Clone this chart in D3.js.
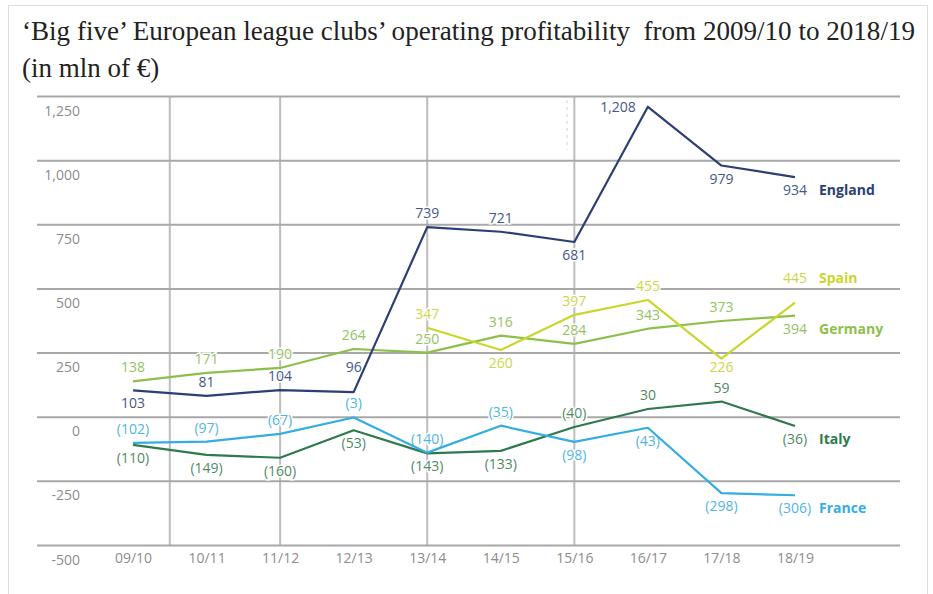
<!DOCTYPE html>
<html>
<head>
<meta charset="utf-8">
<script src="https://cdn.jsdelivr.net/npm/d3@7"></script>
<style>
  body { margin: 0; background: #fff; }
  svg { display: block; }
</style>
</head>
<body>
<svg id="chart"></svg>
<script>
const seasons = ['09/10', '10/11', '11/12', '12/13', '13/14', '14/15', '15/16', '16/17', '17/18', '18/19'];
const england = [103, 81, 104, 96, 739, 721, 681, 1208, 979, 934];
const spain = [null, null, null, null, 347, 260, 397, 455, 226, 445];
const germany = [138, 171, 190, 264, 250, 316, 284, 343, 373, 394];
const italy = [-110, -149, -160, -53, -143, -133, -40, 30, 59, -36];
const france = [-102, -97, -67, -3, -140, -35, -98, -43, -298, -306];
const yTicks = [-500, -250, 0, 250, 500, 750, 1000, 1250];

// where each value label sits: a = above, A = further above, b = below, c = just below, l = left
const englandPos = ['b', 'a', 'a', 'A', 'a', 'a', 'b', 'l', 'b', 'b'];
const spainPos = [null, null, null, null, 'a', 'b', 'a', 'a', 'c', 'A'];
const germanyPos = ['a', 'a', 'a', 'a', 'a', 'a', 'a', 'a', 'a', 'b'];
const italyPos = ['b', 'b', 'b', 'b', 'b', 'b', 'a', 'a', 'a', 'b'];
const francePos = ['a', 'a', 'a', 'a', 'a', 'a', 'b', 'b', 'b', 'b'];

const series = [
  { name: 'Germany', values: germany, pos: germanyPos, color: '#8dc04a', text: '#94c262' },
  { name: 'Spain', values: spain, pos: spainPos, color: '#c9d62e', text: '#cbd748' },
  { name: 'Italy', values: italy, pos: italyPos, color: '#2f7a4c', text: '#4f8a64' },
  { name: 'France', values: france, pos: francePos, color: '#34ade0', text: '#52b5e2' },
  { name: 'England', values: england, pos: englandPos, color: '#2c3e74', text: '#45578a' },
];

function drawChart({ svgTarget, containerWidth, containerHeight }) {
  const svg = d3.select(svgTarget)
    .attr('width', containerWidth)
    .attr('height', containerHeight);
  svg.selectAll('*').remove();

  const font = "'Open Sans', sans-serif";
  const serif = "'Liberation Serif', 'Times New Roman', serif";
  const gridLeft = 37;
  const gridRight = 900;

  // frame around the whole picture
  svg.append('rect')
    .attr('x', 8.5)
    .attr('y', 5.5)
    .attr('width', 919)
    .attr('height', 600)
    .attr('fill', 'none')
    .attr('stroke', '#dcdcdc');

  svg.append('text')
    .attr('x', 22)
    .attr('y', 40)
    .style('font-family', serif)
    .style('font-size', '27px')
    .attr('fill', '#222')
    .attr('textLength', 893)
    .attr('lengthAdjust', 'spacingAndGlyphs')
    .text('\u2018Big five\u2019 European league clubs\u2019 operating profitability\u00a0 from 2009/10 to 2018/19');
  svg.append('text')
    .attr('x', 22)
    .attr('y', 77)
    .style('font-family', serif)
    .style('font-size', '27px')
    .attr('fill', '#222')
    .text('(in mln of \u20ac)');

  const x = d3.scalePoint().domain(seasons).range([133, 795]);
  const xi = d3.scaleLinear().domain([0, seasons.length - 1]).range(x.range());
  const y = d3.scaleLinear().domain([-500, 1250]).range([545, 96]);

  // vertical grid (only a few columns are ruled in the original)
  const vGrid = [0.5, 2, 4, 6];
  svg.append('g')
    .selectAll('line')
    .data(vGrid)
    .enter()
    .append('line')
    .attr('x1', (d) => xi(d))
    .attr('x2', (d) => xi(d))
    .attr('y1', y(1250))
    .attr('y2', y(-500))
    .attr('stroke', '#bdbdbd')
    .attr('stroke-width', 2);

  svg.append('line')
    .attr('x1', 567).attr('x2', 567)
    .attr('y1', 100).attr('y2', 150)
    .attr('stroke', '#cfcfcf')
    .attr('stroke-dasharray', '3,4');

  const num = (v) => d3.format(',')(v).replace('\u2212', '-');

  const yAxis = svg.append('g')
    .attr('transform', `translate(${gridLeft},0)`)
    .call(
      d3.axisLeft(y)
        .tickValues(yTicks)
        .tickSize(-(gridRight - gridLeft))
        .tickFormat(num),
    );
  yAxis.select('.domain').remove();
  yAxis.selectAll('.tick line')
    .attr('stroke', '#a8a8a8')
    .attr('stroke-width', 2);
  yAxis.selectAll('.tick text')
    .attr('x', 43)
    .attr('dy', 19)
    .attr('text-anchor', 'end')
    .attr('fill', '#8c8c8c')
    .style('font-family', font)
    .style('font-size', '14px');

  const xAxis = svg.append('g')
    .attr('transform', `translate(0,${y(-500)})`)
    .call(d3.axisBottom(x).tickSize(0).tickPadding(8));
  xAxis.select('.domain').remove();
  xAxis.selectAll('.tick text')
    .attr('fill', '#8c8c8c')
    .style('font-family', font)
    .style('font-size', '14px');

  const fmt = (v) => (v < 0 ? `(${num(-v)})` : num(v));
  const offsets = { a: -9, A: -20, b: 18, c: 13 };

  // value labels under the lines
  series.forEach((s) => {
    const pts = s.values
      .map((v, i) => ({ v, i, p: s.pos[i] }))
      .filter((d) => d.v !== null);

    svg.append('g')
      .selectAll('text')
      .data(pts)
      .enter()
      .append('text')
      .attr('x', (d) => (d.p === 'l' ? xi(d.i) - 12 : xi(d.i)))
      .attr('y', (d) => (d.p === 'l' ? y(d.v) + 5 : y(d.v) + offsets[d.p]))
      .attr('text-anchor', (d) => (d.p === 'l' ? 'end' : 'middle'))
      .attr('fill', s.text)
      .attr('stroke', '#fff')
      .attr('stroke-width', 3)
      .attr('paint-order', 'stroke')
      .style('font-family', font)
      .style('font-size', '14px')
      .text((d) => fmt(d.v));

    const last = pts[pts.length - 1];
    svg.append('text')
      .attr('x', xi(last.i) + 24)
      .attr('y', y(last.v) + offsets[last.p])
      .attr('fill', s.color)
      .style('font-family', font)
      .style('font-size', '14px')
      .style('font-weight', 'bold')
      .text(s.name);
  });

  const line = d3.line()
    .defined((d) => d !== null)
    .x((d, i) => xi(i))
    .y((d) => y(d));

  svg.append('g')
    .selectAll('path')
    .data(series)
    .enter()
    .append('path')
    .attr('d', (s) => line(s.values))
    .attr('fill', 'none')
    .attr('stroke', (s) => s.color)
    .attr('stroke-width', 2.2)
    .attr('stroke-linejoin', 'round');
}

drawChart({ svgTarget: '#chart', containerWidth: 933, containerHeight: 594 });
</script>
</body>
</html>
